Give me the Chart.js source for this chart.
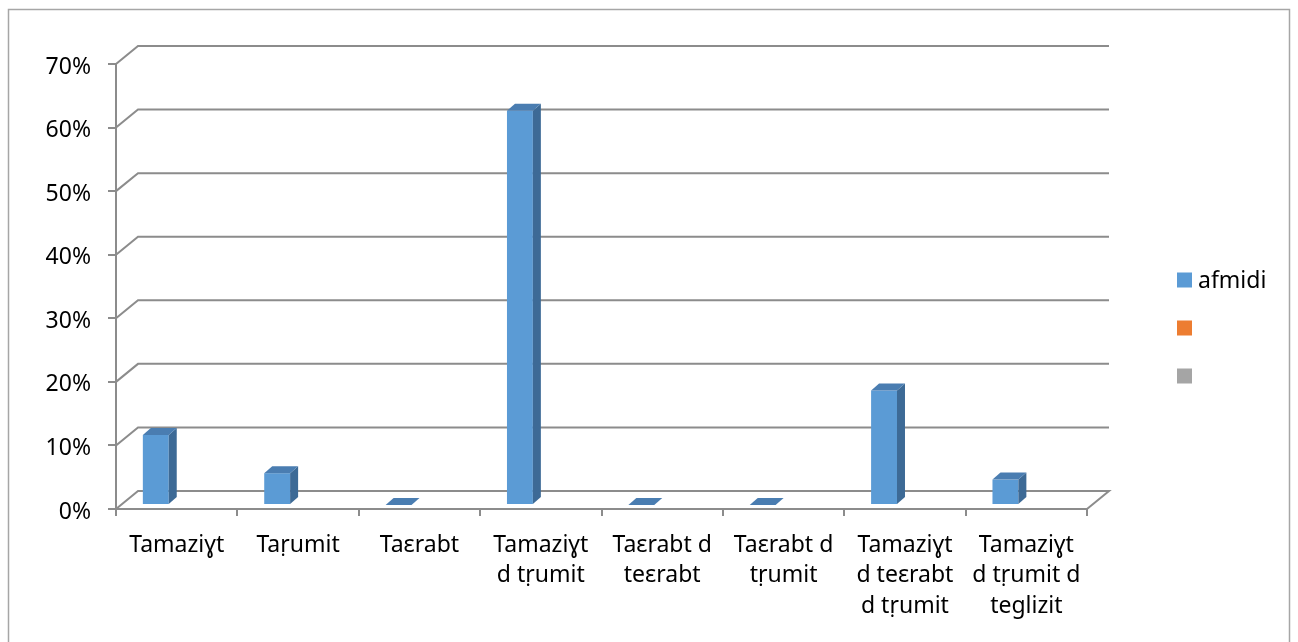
<!DOCTYPE html>
<html><head><meta charset="utf-8">
<script src="https://cdn.jsdelivr.net/npm/chart.js@4.4.1/dist/chart.umd.min.js"></script>
<style>html,body{margin:0;padding:0;background:#fff;overflow:hidden}</style>
</head><body>
<canvas id="c" width="1298" height="642" style="display:block;width:1298px;height:642px"></canvas>
<script>
// ---- data ----
const categories = [
  ["Tamaziɣt"],
  ["Taṛumit"],
  ["Taɛrabt"],
  ["Tamaziɣt", "d tṛumit"],
  ["Taɛrabt d", "teɛrabt"],
  ["Taɛrabt d", "tṛumit"],
  ["Tamaziɣt", "d teɛrabt", "d tṛumit"],
  ["Tamaziɣt", "d tṛumit d", "teglizit"]
];
const seriesNames = ["afmidi", "", ""];
const afmidi = [0.11, 0.05, 0, 0.62, 0, 0, 0.18, 0.04];
const series2 = [null, null, null, null, null, null, null, null];
const series3 = [null, null, null, null, null, null, null, null];
const yMin = 0, yMax = 0.7, yStep = 0.1;

// ---- style ----
const FONT = '"Noto Sans", "Open Sans", sans-serif';
const GRID = '#8c8c8c';
const COLORS = ['#5B9BD5', '#ED7D31', '#A5A5A5'];
const SIDE = '#3D6A96', TOP = '#4A7DB1';

const excel3d = {
  id: 'excel3d',
  beforeDraw(chart) {
    const ctx = chart.ctx;
    ctx.save();
    ctx.fillStyle = '#fff';
    ctx.fillRect(0, 0, chart.width, chart.height);
    ctx.strokeStyle = '#a6a6a6';
    ctx.lineWidth = 1.5;
    ctx.strokeRect(8.5, 9.5, chart.width - 17, chart.height + 20);
    ctx.restore();
  },
  beforeDatasetsDraw(chart) {
    const {ctx, chartArea: a, scales: {y}} = chart;
    const DX = 22, DY = -18;
    ctx.save();
    ctx.strokeStyle = GRID;
    ctx.lineWidth = 2;
    y.ticks.forEach(t => {
      const py = y.getPixelForValue(t.value);
      ctx.beginPath();
      ctx.moveTo(a.left, py);
      ctx.lineTo(a.left + DX, py + DY);
      ctx.lineTo(a.right + DX, py + DY);
      if (t.value === yMin) ctx.lineTo(a.right, py);
      ctx.stroke();
    });
    ctx.restore();
    ctx.save();
    ctx.translate(5, -4);
  },
  afterDatasetsDraw(chart) {
    const ctx = chart.ctx;
    const BX = 8, BY = -7;
    const meta = chart.getDatasetMeta(0);
    meta.data.forEach(el => {
      const p = el.getProps(['x', 'y', 'base', 'width'], true);
      if (p.y == null || isNaN(p.y)) return;
      const l = p.x - p.width / 2, r = p.x + p.width / 2, t = p.y, b = p.base;
      ctx.fillStyle = SIDE;
      ctx.beginPath();
      ctx.moveTo(r, t); ctx.lineTo(r + BX, t + BY); ctx.lineTo(r + BX, b + BY); ctx.lineTo(r, b);
      ctx.closePath(); ctx.fill();
      ctx.fillStyle = TOP;
      ctx.beginPath();
      ctx.moveTo(l, t); ctx.lineTo(l + BX, t + BY); ctx.lineTo(r + BX, t + BY); ctx.lineTo(r, t);
      ctx.closePath(); ctx.fill();
    });
    ctx.restore();
  },
  afterDraw(chart) {
    const {ctx, chartArea: a} = chart;
    ctx.save();
    ctx.font = '23px ' + FONT;
    ctx.textBaseline = 'middle';
    chart.data.datasets.forEach((ds, i) => {
      const cy = 280 + i * 48;
      const x0 = a.right + 90;
      ctx.fillStyle = ds.backgroundColor;
      ctx.fillRect(x0, cy - 7.5, 15, 15);
      if (ds.label) {
        ctx.fillStyle = '#000';
        ctx.fillText(ds.label, x0 + 21, cy + 1);
      }
    });
    ctx.restore();
  }
};

new Chart(document.getElementById('c'), {
  type: 'bar',
  data: {
    labels: categories,
    datasets: [
      {label: seriesNames[0], data: afmidi, backgroundColor: COLORS[0], borderWidth: 0},
      {label: seriesNames[1], data: series2, backgroundColor: COLORS[1], borderWidth: 0},
      {label: seriesNames[2], data: series3, backgroundColor: COLORS[2], borderWidth: 0}
    ]
  },
  options: {
    responsive: false,
    animation: false,
    devicePixelRatio: 1,
    layout: {padding: {top: 64, right: 211, bottom: 0, left: 0}},
    datasets: {bar: {categoryPercentage: 0.64, barPercentage: 1.0, skipNull: false, clip: false}},
    plugins: {legend: {display: false}, tooltip: {enabled: false}},
    scales: {
      x: {
        offset: true,
        grid: {offset: true, drawOnChartArea: false, drawTicks: true, tickLength: 7, color: GRID, lineWidth: 2},
        border: {display: true, color: GRID, width: 2},
        ticks: {color: '#000', padding: 14, maxRotation: 0, autoSkip: false,
                font: {family: FONT, size: 23, lineHeight: 1.33}},
        afterFit(s) { s.height = 133; }
      },
      y: {
        min: yMin, max: yMax,
        grid: {drawOnChartArea: false, drawTicks: true, tickLength: 8, color: GRID, lineWidth: 2},
        border: {display: true, color: GRID, width: 2},
        ticks: {stepSize: yStep, color: '#000', padding: 17, labelOffset: 3,
                font: {family: FONT, size: 23},
                callback: v => Math.round(v * 100) + '%'},
        afterFit(s) { s.width = 116; }
      }
    }
  },
  plugins: [excel3d]
});
</script>
</body></html>
